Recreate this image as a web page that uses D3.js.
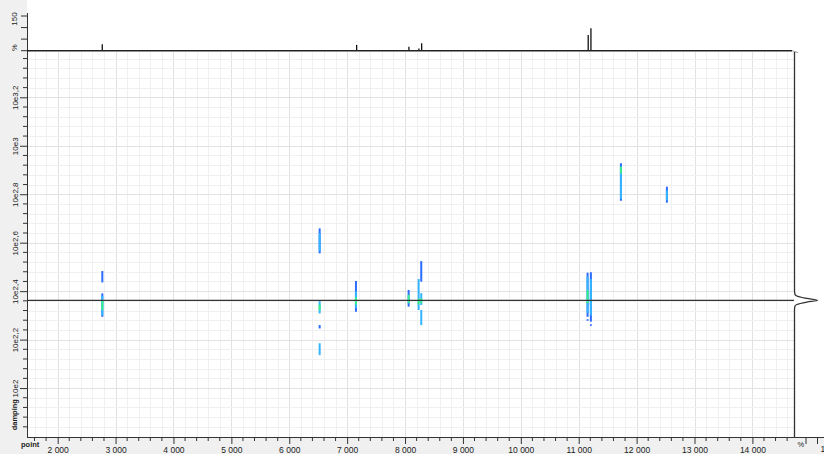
<!DOCTYPE html>
<html>
<head>
<meta charset="utf-8">
<script src="https://cdn.jsdelivr.net/npm/d3@7"></script>
<style>
  body { margin: 0; background: #f0f0f0; }
  svg { display: block; font-family: "Liberation Sans", Arial, sans-serif; }
  .tick text { fill: #222; }
</style>
</head>
<body>
<div id="chart"></div>
<script>
// axis ranges (point / log10 damping)
var pointDomain = [1470, 14710];
var dampDomain = [1.798, 3.387];
var pointMajor = d3.range(2000, 14001, 1000);
var pointMinor = d3.range(1600, 14701, 200);
var dampMajor = [2.0, 2.2, 2.4, 2.6, 2.8, 3.0, 3.2];
var dampMinor = d3.range(1.80, 3.39, 0.04);

// top projection (point, %)
var topPeaks = [
  [2770, 28], [6530, 2], [7164, 25], [8067, 17], [8240, 9],
  [8287, 32], [11164, 68], [11211, 97]
];
var topTicks = [0, 50, 100, 150];

// right projection (damping, relative intensity)
var sideCurve = [
  [1.798, 0], [2.322, 0], [2.338, 0.02], [2.345, 0.1], [2.355, 0.54],
  [2.362, 1.0], [2.370, 0.54], [2.380, 0.1], [2.387, 0.02], [2.405, 0], [3.387, 0]
];
var cursorDamping = 2.362;

// 2D signals: point, damping low, damping high, level (0 blue, 1 light blue, 2 green)
var signals = [
  [2771, 2.436, 2.483, 0], [2771, 2.294, 2.391, 0], [2771, 2.300, 2.380, 1], [2771, 2.322, 2.360, 2],
  [6525, 2.556, 2.659, 0], [6525, 2.565, 2.640, 1], [6525, 2.308, 2.359, 1], [6525, 2.320, 2.345, 2],
  [6525, 2.246, 2.260, 0], [6525, 2.136, 2.185, 1],
  [7152, 2.315, 2.442, 0], [7152, 2.330, 2.400, 1], [7152, 2.345, 2.375, 2],
  [8062, 2.336, 2.405, 0], [8062, 2.350, 2.385, 2],
  [8235, 2.322, 2.450, 1], [8235, 2.345, 2.370, 2],
  [8280, 2.439, 2.524, 0], [8280, 2.343, 2.392, 1], [8280, 2.350, 2.370, 2], [8280, 2.260, 2.322, 1],
  [11153, 2.294, 2.476, 0], [11153, 2.310, 2.460, 1], [11153, 2.351, 2.405, 2], [11153, 2.278, 2.284, 0],
  [11210, 2.274, 2.478, 0], [11210, 2.300, 2.450, 1], [11210, 2.340, 2.400, 1], [11210, 2.257, 2.263, 0],
  [11729, 2.773, 2.928, 0], [11729, 2.780, 2.910, 1], [11729, 2.886, 2.914, 2],
  [12523, 2.765, 2.831, 0], [12523, 2.775, 2.815, 1]
];
var levelColors = ["#2c6cff", "#35b4ff", "#38f08c"];

var width = 824, height = 454;
var plot = {left: 27, right: 794, top: 52, bottom: 437};

var svg = d3.select("#chart").append("svg")
    .attr("width", width)
    .attr("height", height);

svg.append("rect").attr("width", width).attr("height", height).attr("fill", "#f0f0f0");
svg.append("rect")
    .attr("x", plot.left).attr("y", 0)
    .attr("width", width - plot.left).attr("height", plot.bottom)
    .attr("fill", "#fff");

var x = d3.scaleLinear().domain(pointDomain).range([plot.left, plot.right - 0.5]);
var y = d3.scaleLinear().domain(dampDomain).range([plot.bottom, plot.top]);
var yTop = d3.scaleLinear().domain([0, 150]).range([50.7, 16]);
var xSide = d3.scaleLinear().domain([0, 1]).range([794.5, 817.5]);

svg.append("clipPath").attr("id", "clip")
  .append("rect")
    .attr("x", plot.left).attr("y", plot.top)
    .attr("width", plot.right - plot.left).attr("height", plot.bottom - plot.top);

var grid = svg.append("g").attr("clip-path", "url(#clip)");

grid.selectAll(".vminor").data(pointMinor).enter().append("line")
    .attr("x1", d => Math.round(x(d)) + 0.5).attr("x2", d => Math.round(x(d)) + 0.5)
    .attr("y1", plot.top).attr("y2", plot.bottom)
    .attr("stroke", d => d % 1000 === 0 ? "#e2e2e2" : "#f0f0f0");

grid.selectAll(".hminor").data(dampMinor).enter().append("line")
    .attr("x1", plot.left).attr("x2", plot.right)
    .attr("y1", d => Math.round(y(d)) + 0.5).attr("y2", d => Math.round(y(d)) + 0.5)
    .attr("stroke", d => Math.abs(d * 5 - Math.round(d * 5)) < 1e-6 ? "#e2e2e2" : "#f0f0f0");

// 2D signals
grid.selectAll(".sig").data(signals).enter().append("rect")
    .attr("x", d => x(d[0]) - 1)
    .attr("width", 2)
    .attr("y", d => y(d[2]))
    .attr("height", d => Math.max(1.5, y(d[1]) - y(d[2])))
    .attr("fill", d => levelColors[d[3]]);

// cursor line
grid.append("line")
    .attr("x1", plot.left).attr("x2", plot.right)
    .attr("y1", y(cursorDamping)).attr("y2", y(cursorDamping))
    .attr("stroke", "#333").attr("stroke-width", 1.2);

// bottom axis
var xAxis = svg.append("g")
    .attr("transform", `translate(0,${plot.bottom})`)
    .call(d3.axisBottom(x).tickValues(pointMajor).tickSize(7).tickPadding(3)
        .tickFormat(d => d3.format(",")(d).replace(",", " ")));
xAxis.select(".domain").attr("stroke", "#333").attr("d", `M${plot.left},0.5H${width}`);
xAxis.selectAll(".tick line").attr("stroke", "#333");
xAxis.selectAll("text").attr("font-size", 8.5);
xAxis.selectAll(".minor").data(pointMinor.filter(d => d % 1000 !== 0)).enter().append("line")
    .attr("class", "minor")
    .attr("x1", d => x(d)).attr("x2", d => x(d))
    .attr("y1", 0).attr("y2", 4)
    .attr("stroke", "#333");

// left axis
var yAxis = svg.append("g")
    .attr("transform", `translate(${plot.left},0)`)
    .call(d3.axisLeft(y).tickValues(dampMajor).tickSize(7)
        .tickFormat(d => "10e" + d3.format("~g")(d).replace(".", ",")));
yAxis.select(".domain").attr("stroke", "#333").attr("d", `M0.5,${plot.top}V${plot.bottom}`);
yAxis.selectAll(".tick line").attr("stroke", "#333");
yAxis.selectAll(".tick text")
    .attr("font-size", 8)
    .attr("text-anchor", "middle")
    .attr("transform", "translate(-12,0) rotate(-90)")
    .attr("x", 0).attr("dy", "0.32em");
yAxis.selectAll(".minor").data(dampMinor.filter(d => Math.abs(d * 5 - Math.round(d * 5)) > 1e-6)).enter().append("line")
    .attr("class", "minor")
    .attr("x1", -4).attr("x2", 0)
    .attr("y1", d => y(d)).attr("y2", d => y(d))
    .attr("stroke", "#333");

svg.append("text")
    .attr("transform", `translate(17,${y(1.89)}) rotate(-90)`)
    .attr("text-anchor", "middle")
    .attr("font-size", 7.5).attr("font-weight", "bold").attr("fill", "#222")
    .text("damping");
svg.append("text")
    .attr("x", 21).attr("y", 447)
    .attr("font-size", 7.5).attr("font-weight", "bold").attr("fill", "#222")
    .text("point");

// top projection
var topAxis = svg.append("g");
topAxis.append("line")
    .attr("x1", plot.left + 0.5).attr("x2", plot.left + 0.5)
    .attr("y1", 13).attr("y2", plot.top)
    .attr("stroke", "#333");
topAxis.selectAll(".t").data(topTicks).enter().append("line")
    .attr("x1", plot.left - 6).attr("x2", plot.left)
    .attr("y1", d => yTop(d)).attr("y2", d => yTop(d))
    .attr("stroke", "#333");
topAxis.append("text")
    .attr("transform", `translate(17,${yTop(150) + 3}) rotate(-90)`)
    .attr("text-anchor", "middle").attr("font-size", 8).attr("fill", "#222")
    .text("150");
topAxis.append("text")
    .attr("transform", `translate(17,${yTop(0) - 3}) rotate(-90)`)
    .attr("text-anchor", "middle").attr("font-size", 7.5).attr("fill", "#222")
    .text("%");

svg.selectAll(".tpk").data(topPeaks).enter().append("line")
    .attr("x1", d => x(d[0])).attr("x2", d => x(d[0]))
    .attr("y1", yTop(0)).attr("y2", d => yTop(d[1]))
    .attr("stroke", "#111").attr("stroke-width", 1.3);
svg.append("line")
    .attr("x1", plot.left).attr("x2", plot.right - 2)
    .attr("y1", yTop(0)).attr("y2", yTop(0))
    .attr("stroke", "#222").attr("stroke-width", 1.5);
svg.append("path")
    .attr("d", `M${plot.right - 2},${yTop(0)}L${plot.right + 4},${yTop(0) + 2}`)
    .attr("stroke", "#999").attr("fill", "none");

// right projection
svg.append("path")
    .datum(sideCurve)
    .attr("d", d3.line().x(d => xSide(d[1])).y(d => y(d[0])).curve(d3.curveMonotoneY))
    .attr("fill", "none").attr("stroke", "#333").attr("stroke-width", 1.3);

var sideAxis = svg.append("g").attr("transform", `translate(0,${plot.bottom})`);
sideAxis.append("line")
    .attr("x1", xSide(0)).attr("x2", width)
    .attr("y1", 0.5).attr("y2", 0.5).attr("stroke", "#333");
sideAxis.selectAll(".st").data([0.5, 1]).enter().append("line")
    .attr("x1", d => xSide(d)).attr("x2", d => xSide(d))
    .attr("y1", 0).attr("y2", 7).attr("stroke", "#333");
sideAxis.append("text")
    .attr("x", xSide(0) + 3).attr("y", 10)
    .attr("font-size", 7.5).attr("fill", "#222").text("%");
sideAxis.append("text")
    .attr("x", xSide(1) + 3).attr("y", 15)
    .attr("font-size", 8.5).attr("fill", "#222").text("1");
</script>
</body>
</html>
